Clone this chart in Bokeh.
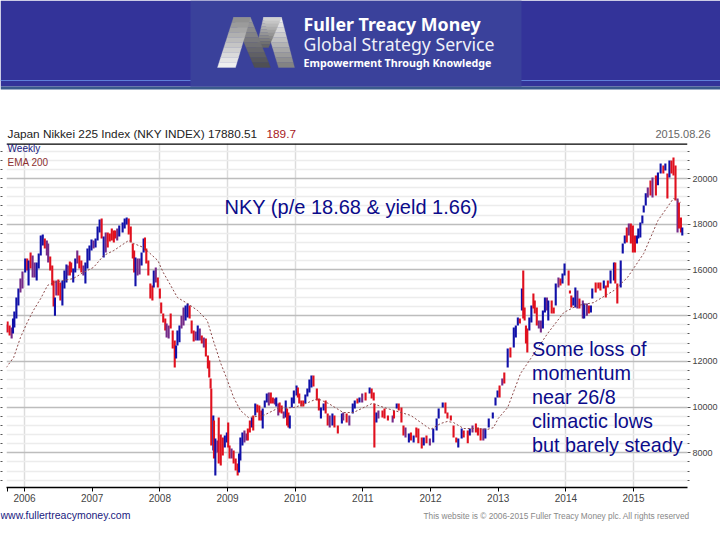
from bokeh.plotting import figure
from bokeh.layouts import column
from bokeh.models import Range1d, LinearAxis, FixedTicker, Label, Span
from bokeh.core.properties import value
from bokeh.embed import file_html
from bokeh.resources import INLINE

dates = [
 2005.72,2005.75,2005.78,2005.81,2005.83,2005.85,2005.88,2005.91,2005.94,2005.97,
 2006.01,2006.04,2006.06,2006.09,2006.12,2006.15,2006.18,2006.21,2006.24,2006.27,
 2006.30,2006.33,2006.35,2006.38,2006.41,2006.43,2006.45,2006.47,2006.50,2006.53,
 2006.56,2006.59,2006.62,2006.64,2006.67,2006.69,2006.72,2006.75,2006.78,2006.81,
 2006.84,2006.87,2006.90,2006.93,2006.96,2006.99,2007.02,2007.05,2007.08,2007.11,
 2007.14,2007.17,2007.20,2007.23,2007.26,2007.29,2007.32,2007.34,2007.37,2007.40,
 2007.45,2007.48,2007.51,2007.54,2007.57,2007.60,2007.62,2007.64,2007.67,2007.70,
 2007.73,2007.76,2007.78,2007.80,2007.83,2007.86,2007.89,2007.91,2007.94,2007.97,
 2008.00,2008.02,2008.05,2008.08,2008.10,2008.13,2008.16,2008.19,2008.22,2008.24,
 2008.26,2008.29,2008.32,2008.35,2008.38,2008.41,2008.44,2008.47,2008.50,2008.53,
 2008.56,2008.59,2008.62,2008.65,2008.68,2008.71,2008.73,2008.75,2008.76,2008.79,
 2008.80,2008.82,2008.85,2008.87,2008.90,2008.93,2008.96,2008.99,2009.01,2009.03,
 2009.06,2009.09,2009.12,2009.15,2009.17,2009.19,2009.22,2009.25,2009.28,2009.30,
 2009.33,2009.36,2009.38,2009.41,2009.44,2009.47,2009.50,2009.52,2009.55,2009.58,
 2009.61,2009.64,2009.67,2009.70,2009.72,2009.75,2009.77,2009.80,2009.83,2009.86,
 2009.88,2009.90,2009.92,2009.95,2009.98,2010.02,2010.04,2010.06,2010.09,2010.12,
 2010.15,2010.18,2010.21,2010.24,2010.27,2010.32,2010.35,2010.38,2010.42,2010.45,
 2010.48,2010.51,2010.55,2010.58,2010.63,2010.69,2010.71,2010.76,2010.80,2010.85,
 2010.88,2010.92,2010.95,2010.99,2011.04,2011.10,2011.13,2011.16,2011.17,2011.20,
 2011.23,2011.29,2011.32,2011.37,2011.44,2011.46,2011.50,2011.53,2011.57,2011.60,
 2011.63,2011.68,2011.71,2011.75,2011.79,2011.82,2011.87,2011.90,2011.94,2011.99,
 2012.04,2012.09,2012.12,2012.18,2012.22,2012.25,2012.30,2012.34,2012.38,2012.41,
 2012.46,2012.49,2012.55,2012.58,2012.62,2012.67,2012.70,2012.74,2012.78,2012.81,
 2012.86,2012.92,2012.96,2012.99,2013.02,2013.06,2013.09,2013.14,2013.18,2013.23,
 2013.26,2013.29,2013.32,2013.35,2013.37,2013.39,2013.41,2013.43,2013.46,2013.49,
 2013.52,2013.54,2013.57,2013.60,2013.63,2013.66,2013.69,2013.72,2013.74,2013.79,
 2013.82,2013.85,2013.89,2013.92,2013.95,2013.98,2014.04,2014.06,2014.08,2014.11,
 2014.14,2014.17,2014.20,2014.25,2014.27,2014.31,2014.34,2014.37,2014.39,2014.44,
 2014.48,2014.51,2014.56,2014.59,2014.62,2014.66,2014.71,2014.73,2014.76,2014.81,
 2014.84,2014.87,2014.90,2014.93,2014.96,2014.99,2015.02,2015.05,2015.07,2015.10,
 2015.13,2015.15,2015.18,2015.21,2015.25,2015.28,2015.33,2015.36,2015.40,2015.44,
 2015.47,2015.50,2015.53,2015.56,2015.59,2015.62,2015.65,2015.67,2015.70,2015.72]

highs = [
 13610,13740,13570,13480,13870,14180,14790,15190,15630,15930,
 16500,16500,16410,16760,16630,16320,16320,16720,17510,17550,
 17380,17290,17160,16590,16190,15540,14790,15540,15580,15450,
 15540,15980,16240,16190,16370,16320,16060,16500,16850,16630,
 16410,16190,16320,16940,17070,17330,17290,17380,17900,18210,
 18250,17460,17640,17640,17590,17810,17730,17730,17810,17940,
 18080,18250,18290,18250,17900,17160,16850,16540,16500,16500,
 16760,17380,17420,16940,16410,15410,15320,15980,16110,15670,
 15190,14570,14090,13870,13660,13570,14090,13350,12910,12690,
 13350,13570,14000,14360,14440,14530,14440,13790,13350,13310,
 13570,13440,13130,13040,13000,12250,12040,11250,10810,9630,
 9410,8620,8540,9540,8800,8670,8750,8890,9320,8320,
 8190,8100,7750,7530,7970,8670,8890,8970,8840,9060,
 9410,9540,9630,10160,10110,10070,9850,9940,10290,10590,
 10640,10640,10420,10370,10420,10160,10200,10070,9800,10290,
 9940,9760,9630,10420,10720,10940,10860,10590,10290,10290,
 10550,10810,11200,11380,11380,10810,10370,9980,10160,10290,
 9720,9630,9720,9630,9190,9720,9760,9720,9630,10160,
 10290,10370,10420,10590,10640,10860,10810,10640,10160,9760,
 9850,9850,9940,9630,9630,9850,10160,10160,9980,9190,
 9100,8840,8890,8750,9100,9060,8670,8670,8750,8620,
 9060,9500,9940,10200,10200,9760,9630,9190,8670,8620,
 9060,8970,8970,9060,9190,9280,9100,9060,9060,9060,
 9500,9760,10420,10720,10940,11250,11510,12560,12610,13480,
 13570,13920,13870,15190,15980,14360,13570,13440,13920,14440,
 14970,14660,14360,13790,13790,14220,14790,14790,14660,14660,
 14360,15410,15670,15620,15840,16280,15980,15100,14880,14790,
 15230,15100,14750,14660,14530,14530,14440,14440,15190,15450,
 15450,15450,15540,15320,15540,15980,16320,16320,15410,16410,
 17160,17510,17860,18030,18030,17940,17510,17510,17810,18080,
 18380,18820,19350,19610,19910,20040,20130,20260,20660,20570,
 20660,20220,20790,20790,20920,20570,19130,18950,18290,17860]

lows = [
 13260,13260,13130,13000,13220,13480,13870,14440,15010,15190,
 15890,15980,15320,16060,15670,15670,15540,16060,16630,17070,
 16940,16630,16320,15980,15320,14400,14000,14880,14880,14660,
 14440,15190,15450,15760,15760,15890,15450,15890,16280,16060,
 15890,15760,15410,16060,16410,16850,16940,16980,17290,17640,
 17380,16540,16760,16980,17240,17290,17200,17380,17290,17460,
 17640,17810,17990,17550,17200,16500,15890,15280,15760,15800,
 16190,16760,16850,16280,15760,14750,14660,15230,15450,15230,
 14750,14090,13700,13350,13040,13000,13440,12560,11730,12120,
 12690,12830,13440,13570,13790,13920,13870,13220,12870,12910,
 12910,12910,12780,12610,12210,11690,11290,10810,8320,8100,
 7750,7000,8010,7530,7440,7880,8230,8450,8230,7750,
 7750,7530,7220,7000,7130,7660,8320,8450,8540,8540,
 8890,9100,8970,9630,9760,9410,9410,9060,9980,10200,
 10070,10160,10160,10110,10020,9630,9760,9720,9500,9540,
 9190,9100,9060,9980,10160,10500,10420,10160,10020,10020,
 10160,10460,10640,10860,10900,10290,9850,9500,9850,9720,
 9190,9100,9190,9100,8840,9280,9410,9320,9190,9720,
 9940,10160,10200,10200,10290,10590,10370,10290,8230,9320,
 9500,9540,9500,9410,9320,9500,9940,9850,9320,8750,
 8670,8450,8540,8450,8670,8410,8190,8320,8410,8320,
 8450,8970,9500,9980,9720,9500,9410,8670,8450,8230,
 8620,8670,8410,8750,8890,8890,8750,8540,8540,8620,
 9100,9500,10070,10420,10420,10940,11030,11730,12170,12610,
 13040,13570,13660,14220,13870,13790,12780,12390,13350,13700,
 14310,14090,13570,13440,13260,13440,14140,14220,13790,14090,
 14090,14440,15230,15320,15410,15760,15320,14970,14360,14440,
 14360,14310,14310,13870,13870,14000,14090,14140,14750,15010,
 15190,15100,15190,14790,15230,15410,15540,15410,14530,15230,
 16720,17160,17200,17510,17160,16760,16760,17160,17380,17420,
 18030,18510,18820,19170,19260,19170,19260,19700,20220,20220,
 20350,19130,20040,20220,20130,19040,17640,17810,17640,17510]

kinds = list(
 "PRRPBBBBPP" "BRBRPPBBBB" "RPPRRRBPRR" "BBBPRRBBPR" "RPBBBBPBBB" "RBPRRRRRPB"
 "BBBRRRRBPP" "BBRRRRRBPR" "RRRRPPRRRB" "BBPPBBRRRP" "BPRPRRRRRB" "RBPRRRBBRR"
 "PRRRBBBPPR" "RBRBRRRBBB" "PRRPBPRRPB" "RRBBBBRRRR" "BBBBRRRBBR" "RPBRRBPRPB"
 "BRBPRBRRRB" "PRRRPRBRRR" "PBRBRRRBRP" "BBBBRRRRRB" "BRRBPRRRPB" "BBBBRPRBRB"
 "BBRBRRRRBB" "RRRPPBBPBR" "RBPRBBRRRB" "BPRPBPRBBR" "RRBRRBBRRB" "BBRPRRRBBB"
 "BBBPRPRBBR" "BRBRRRPRRB")

ema_dates = [2005.73,2005.84,2005.94,2006.04,2006.13,2006.24,2006.34,2006.43,2006.58,2006.72,
 2006.87,2007.02,2007.17,2007.32,2007.54,2007.61,2007.76,2007.97,2008.05,2008.16,
 2008.26,2008.41,2008.56,2008.70,2008.79,2008.90,2009.00,2009.09,2009.19,2009.31,
 2009.53,2009.74,2009.98,2010.12,2010.33,2010.49,2010.71,2010.86,2011.14,2011.31,
 2011.71,2012.00,2012.15,2012.25,2012.34,2012.49,2012.70,2012.84,2012.93,2013.00,
 2013.14,2013.33,2013.48,2013.73,2013.97,2014.17,2014.41,2014.71,2014.91,2015.15,
 2015.36,2015.59,2015.70]
ema_values = [11730,12170,13040,13700,14220,14750,15320,15450,15540,15620,
 15890,16110,16630,16850,17290,17160,16980,16410,15890,15320,
 14790,14530,14220,13790,12910,11910,11160,10420,9850,9540,
 9630,9940,9980,10110,10370,10160,9760,9760,10160,9980,
 9630,9020,9280,9370,9320,9060,9060,9020,9100,9500,
 9980,11470,12120,13220,14140,14440,14570,15100,15670,16720,
 18160,19130,18950]

year_ticks = [2006,2007,2008,2009,2010,2011,2012,2013,2014,2015]
grid_years = [2006,2008,2009,2010,2014,2015]
price_ticks = [8000,10000,12000,14000,16000,18000,20000]
minor_prices = [p for p in range(6800, 21500, 400) if p % 2000 != 0]

BAR = {"B": "#1010a8", "R": "#e0101e", "P": "#742a88"}
ARIAL = value("Liberation Sans")
NOTO = value("Noto Sans")

# ---- banner and title strip ----
h = figure(width=720, height=141, x_range=Range1d(0, 720), y_range=Range1d(141, 0),
           output_backend="svg", toolbar_location=None, min_border=0, frame_align=False,
           outline_line_color=None, background_fill_color="white", border_fill_color="white")
h.axis.visible = False
h.grid.visible = False
h.quad(left=[0], right=[720], top=[0], bottom=[86], color="#333399", line_width=0)
h.quad(left=[0], right=[720], top=[86], bottom=[89], color="#3a5a8c", line_width=0)
h.segment(x0=[0], x1=[720], y0=[80], y1=[80], line_color="#5f7fd8", line_width=1)
h.quad(left=[190], right=[521], top=[0], bottom=[86], color="#3a419b", line_width=0)

def stripe(x0a, x0b, y0, x1a, x1b, y1, c0, c1, n=10):
    for i in range(n):
        t0, t1 = i / n, (i + 1) / n
        ya, yb = y0 + (y1 - y0) * t0, y0 + (y1 - y0) * t1
        col = "#%02x%02x%02x" % tuple(int(c0[k] + (c1[k] - c0[k]) * (t0 + t1) / 2) for k in range(3))
        h.patch([x0a + (x1a - x0a) * t0, x0b + (x1b - x0b) * t0,
                 x0b + (x1b - x0b) * t1, x0a + (x1a - x0a) * t1],
                [ya, ya, yb, yb], color=col, line_width=0.3)

stripe(263, 281, 17, 278, 294, 67, (245, 245, 245), (125, 125, 125))
stripe(263, 281, 17, 256, 268, 47, (215, 215, 215), (95, 95, 95))
stripe(233, 250, 17, 254, 270, 67, (160, 160, 160), (75, 75, 80))
stripe(233, 250, 17, 217, 235, 67, (140, 140, 140), (245, 245, 245))

def htext(fig, x, y, t, color, size, font=ARIAL, style="normal"):
    fig.text(x=[x], y=[y], text=[t], text_color=color, text_font=font, text_font_size=size,
             text_font_style=style, text_baseline="middle")

htext(h, 303, 23, "Fuller Treacy Money", "white", "17.8px", NOTO, "bold")
htext(h, 303, 43, "Global Strategy Service", "#eef0f8", "17.7px", NOTO)
htext(h, 303, 62, "Empowerment Through Knowledge", "white", "10.7px", NOTO, "bold")
htext(h, 7, 133, "Japan Nikkei 225 Index (NKY INDEX) 17880.51", "#222222", "11.8px")
htext(h, 266, 133, "189.7", "#a8201e", "11.8px")
htext(h, 655, 133, "2015.08.26", "#666666", "11px")

# ---- chart ----
p = figure(width=720, height=364, x_range=Range1d(2005.734, 2015.797), y_range=Range1d(6479, 21532),
           output_backend="svg", toolbar_location=None, min_border_left=6, min_border_right=33,
           min_border_top=2, min_border_bottom=18, outline_line_color=None, frame_align=False,
           x_axis_location="below", y_axis_location="left")

p.xgrid.ticker = FixedTicker(ticks=grid_years)
p.xgrid.grid_line_color = "#dcdcdc"
p.xgrid.grid_line_width = 1.5
yt = FixedTicker(ticks=price_ticks, minor_ticks=minor_prices)
p.ygrid.ticker = yt
p.ygrid.grid_line_color = "#bdbdbd"
p.ygrid.grid_line_width = 1.5
p.ygrid.minor_grid_line_color = "#ececec"
p.ygrid.minor_grid_line_width = 1.3

xa = p.xaxis[0]
xa.ticker = FixedTicker(ticks=year_ticks, minor_ticks=[2005.75])
xa.formatter.use_scientific = False
xa.axis_line_color = "black"
xa.axis_line_width = 1.5
xa.major_tick_in = 0
xa.major_tick_out = 4
xa.minor_tick_in = 0
xa.minor_tick_out = 4
xa.major_tick_line_color = "black"
xa.minor_tick_line_color = "black"
xa.major_label_text_font = "Liberation Sans"
xa.major_label_text_font_size = "10px"
xa.major_label_text_color = "#444444"
xa.major_label_standoff = 2

ya = p.yaxis[0]
ya.ticker = FixedTicker(ticks=[], minor_ticks=price_ticks + minor_prices)
ya.axis_line_color = None
ya.major_tick_line_color = None
ya.minor_tick_in = -4
ya.minor_tick_out = 6
ya.minor_tick_line_color = "#555555"

ra = LinearAxis(ticker=yt, axis_line_color=None, major_tick_in=0, major_tick_out=3,
                minor_tick_in=0, minor_tick_out=2, major_tick_line_color="#555555",
                minor_tick_line_color="#555555", major_label_text_font="Liberation Sans",
                major_label_text_font_size="9px", major_label_text_color="#444444",
                major_label_standoff=2)
ra.formatter.use_scientific = False
p.add_layout(ra, "right")

p.add_layout(Span(location=21532, dimension="width", line_color="black", line_width=2.5))

p.segment(x0=dates, x1=dates, y0=lows, y1=highs, line_color=[BAR[k] for k in kinds], line_width=2.1)
p.line(ema_dates, ema_values, line_color="#8c4a4a", line_width=1, line_dash="2 2")

def label(x, y, text, color, size):
    p.add_layout(Label(x=x, y=y, text=text, text_color=color, text_font="Liberation Sans",
                       text_font_size=size, text_baseline="middle", text_align="left"))

label(2005.75, 21320, "Weekly", "#1a1a80", "10px")
label(2005.75, 20700, "EMA 200", "#8c3030", "10px")
label(2008.956, 18775, "NKY (p/e 18.68 & yield 1.66)", "#0b0b8a", "20px")
for yv, t in zip([12560, 11510, 10460, 9410, 8360],
                 ["Some loss of", "momentum", "near 26/8", "climactic lows", "but barely steady"]):
    label(2013.50, yv, t, "#0b0b8a", "19.8px")

# ---- footer ----
f = figure(width=720, height=35, x_range=Range1d(0, 720), y_range=Range1d(540, 505),
           output_backend="svg", toolbar_location=None, min_border=0, frame_align=False,
           outline_line_color=None)
f.axis.visible = False
f.grid.visible = False
htext(f, 0, 514, "www.fullertreacymoney.com", "#1a1a80", "10.5px")
htext(f, 423, 515, "This website is \u00a9 2006-2015 Fuller Treacy Money plc. All rights reserved", "#888888", "8.3px")

page = column(h, p, f, spacing=0)
open("out.html", "w").write(file_html(page, INLINE))
